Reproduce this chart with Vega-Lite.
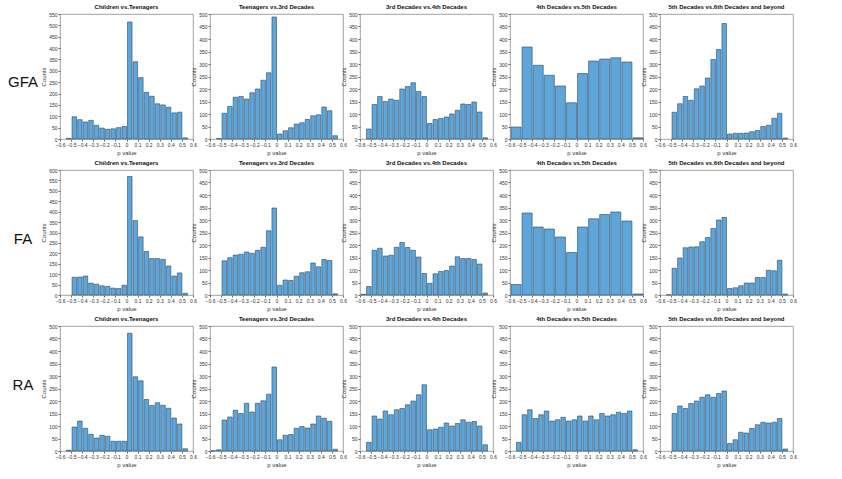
{
"$schema":"https://vega.github.io/schema/vega-lite/v6.json",
"background":"white",
"padding":{"left":3,"top":3,"right":5,"bottom":5},
"config":{"font":"Liberation Sans","view":{"stroke":"#8c8c8c","strokeWidth":0.8},
"axis":{"grid":false,"labelFontSize":5,"titleFontSize":6,"titleFontWeight":"normal","labelColor":"#333","titleColor":"#333","tickSize":2,"tickColor":"#666","domain":false,"labelPadding":1,"titlePadding":2,"labelFlush":false,"labelOverlap":false},
"title":{"fontSize":6,"fontWeight":"bold","offset":2,"color":"#111"},
"bar":{"fill":"#5ea6da","stroke":"#2b4a66","strokeWidth":0.6}},
"datasets":{
"g1":[{"a":-0.55,"b":-0.5,"c":3},{"a":-0.5,"b":-0.45,"c":98},{"a":-0.45,"b":-0.4,"c":85},{"a":-0.4,"b":-0.35,"c":75},{"a":-0.35,"b":-0.3,"c":82},{"a":-0.3,"b":-0.25,"c":60},{"a":-0.25,"b":-0.2,"c":48},{"a":-0.2,"b":-0.15,"c":43},{"a":-0.15,"b":-0.1,"c":45},{"a":-0.1,"b":-0.05,"c":50},{"a":-0.05,"b":0,"c":55},{"a":0,"b":0.05,"c":515},{"a":0.05,"b":0.1,"c":340},{"a":0.1,"b":0.15,"c":270},{"a":0.15,"b":0.2,"c":205},{"a":0.2,"b":0.25,"c":188},{"a":0.25,"b":0.3,"c":155},{"a":0.3,"b":0.35,"c":150},{"a":0.35,"b":0.4,"c":140},{"a":0.4,"b":0.45,"c":115},{"a":0.45,"b":0.5,"c":118},{"a":0.5,"b":0.55,"c":5}],
"g2":[{"a":-0.55,"b":-0.5,"c":2},{"a":-0.5,"b":-0.45,"c":103},{"a":-0.45,"b":-0.4,"c":130},{"a":-0.4,"b":-0.35,"c":167},{"a":-0.35,"b":-0.3,"c":170},{"a":-0.3,"b":-0.25,"c":160},{"a":-0.25,"b":-0.2,"c":185},{"a":-0.2,"b":-0.15,"c":200},{"a":-0.15,"b":-0.1,"c":235},{"a":-0.1,"b":-0.05,"c":265},{"a":-0.05,"b":0,"c":488},{"a":0,"b":0.05,"c":20},{"a":0.05,"b":0.1,"c":33},{"a":0.1,"b":0.15,"c":45},{"a":0.15,"b":0.2,"c":60},{"a":0.2,"b":0.25,"c":65},{"a":0.25,"b":0.3,"c":78},{"a":0.3,"b":0.35,"c":93},{"a":0.35,"b":0.4,"c":97},{"a":0.4,"b":0.45,"c":128},{"a":0.45,"b":0.5,"c":113},{"a":0.5,"b":0.55,"c":13}],
"g3":[{"a":-0.55,"b":-0.5,"c":40},{"a":-0.5,"b":-0.45,"c":138},{"a":-0.45,"b":-0.4,"c":170},{"a":-0.4,"b":-0.35,"c":150},{"a":-0.35,"b":-0.3,"c":160},{"a":-0.3,"b":-0.25,"c":155},{"a":-0.25,"b":-0.2,"c":200},{"a":-0.2,"b":-0.15,"c":210},{"a":-0.15,"b":-0.1,"c":225},{"a":-0.1,"b":-0.05,"c":190},{"a":-0.05,"b":0,"c":170},{"a":0,"b":0.05,"c":62},{"a":0.05,"b":0.1,"c":78},{"a":0.1,"b":0.15,"c":82},{"a":0.15,"b":0.2,"c":88},{"a":0.2,"b":0.25,"c":100},{"a":0.25,"b":0.3,"c":115},{"a":0.3,"b":0.35,"c":140},{"a":0.35,"b":0.4,"c":138},{"a":0.4,"b":0.45,"c":148},{"a":0.45,"b":0.5,"c":108},{"a":0.5,"b":0.55,"c":5}],
"g4":[{"a":-0.6,"b":-0.5,"c":48},{"a":-0.5,"b":-0.4,"c":368},{"a":-0.4,"b":-0.3,"c":295},{"a":-0.3,"b":-0.2,"c":255},{"a":-0.2,"b":-0.1,"c":212},{"a":-0.1,"b":0,"c":145},{"a":0,"b":0.1,"c":262},{"a":0.1,"b":0.2,"c":312},{"a":0.2,"b":0.3,"c":320},{"a":0.3,"b":0.4,"c":325},{"a":0.4,"b":0.5,"c":308},{"a":0.5,"b":0.6,"c":5}],
"g5":[{"a":-0.5,"b":-0.45,"c":107},{"a":-0.45,"b":-0.4,"c":141},{"a":-0.4,"b":-0.35,"c":170},{"a":-0.35,"b":-0.3,"c":155},{"a":-0.3,"b":-0.25,"c":201},{"a":-0.25,"b":-0.2,"c":212},{"a":-0.2,"b":-0.15,"c":244},{"a":-0.15,"b":-0.1,"c":318},{"a":-0.1,"b":-0.05,"c":358},{"a":-0.05,"b":0,"c":462},{"a":0,"b":0.05,"c":20},{"a":0.05,"b":0.1,"c":23},{"a":0.1,"b":0.15,"c":23},{"a":0.15,"b":0.2,"c":24},{"a":0.2,"b":0.25,"c":29},{"a":0.25,"b":0.3,"c":34},{"a":0.3,"b":0.35,"c":50},{"a":0.35,"b":0.4,"c":55},{"a":0.4,"b":0.45,"c":83},{"a":0.45,"b":0.5,"c":103},{"a":0.5,"b":0.55,"c":4}],
"f1":[{"a":-0.5,"b":-0.45,"c":85},{"a":-0.45,"b":-0.4,"c":86},{"a":-0.4,"b":-0.35,"c":91},{"a":-0.35,"b":-0.3,"c":57},{"a":-0.3,"b":-0.25,"c":52},{"a":-0.25,"b":-0.2,"c":44},{"a":-0.2,"b":-0.15,"c":41},{"a":-0.15,"b":-0.1,"c":33},{"a":-0.1,"b":-0.05,"c":31},{"a":-0.05,"b":0,"c":47},{"a":0,"b":0.05,"c":569},{"a":0.05,"b":0.1,"c":357},{"a":0.1,"b":0.15,"c":279},{"a":0.15,"b":0.2,"c":209},{"a":0.2,"b":0.25,"c":175},{"a":0.25,"b":0.3,"c":175},{"a":0.3,"b":0.35,"c":171},{"a":0.35,"b":0.4,"c":139},{"a":0.4,"b":0.45,"c":91},{"a":0.45,"b":0.5,"c":106},{"a":0.5,"b":0.55,"c":8}],
"f2":[{"a":-0.5,"b":-0.45,"c":137},{"a":-0.45,"b":-0.4,"c":149},{"a":-0.4,"b":-0.35,"c":160},{"a":-0.35,"b":-0.3,"c":163},{"a":-0.3,"b":-0.25,"c":172},{"a":-0.25,"b":-0.2,"c":167},{"a":-0.2,"b":-0.15,"c":179},{"a":-0.15,"b":-0.1,"c":191},{"a":-0.1,"b":-0.05,"c":257},{"a":-0.05,"b":0,"c":348},{"a":0,"b":0.05,"c":39},{"a":0.05,"b":0.1,"c":60},{"a":0.1,"b":0.15,"c":58},{"a":0.15,"b":0.2,"c":75},{"a":0.2,"b":0.25,"c":89},{"a":0.25,"b":0.3,"c":93},{"a":0.3,"b":0.35,"c":128},{"a":0.35,"b":0.4,"c":113},{"a":0.4,"b":0.45,"c":142},{"a":0.45,"b":0.5,"c":138},{"a":0.5,"b":0.55,"c":5}],
"f3":[{"a":-0.6,"b":-0.55,"c":3},{"a":-0.55,"b":-0.5,"c":34},{"a":-0.5,"b":-0.45,"c":179},{"a":-0.45,"b":-0.4,"c":187},{"a":-0.4,"b":-0.35,"c":156},{"a":-0.35,"b":-0.3,"c":159},{"a":-0.3,"b":-0.25,"c":191},{"a":-0.25,"b":-0.2,"c":210},{"a":-0.2,"b":-0.15,"c":190},{"a":-0.15,"b":-0.1,"c":179},{"a":-0.1,"b":-0.05,"c":152},{"a":-0.05,"b":0,"c":86},{"a":0,"b":0.05,"c":47},{"a":0.05,"b":0.1,"c":85},{"a":0.1,"b":0.15,"c":94},{"a":0.15,"b":0.2,"c":98},{"a":0.2,"b":0.25,"c":116},{"a":0.25,"b":0.3,"c":153},{"a":0.3,"b":0.35,"c":146},{"a":0.35,"b":0.4,"c":146},{"a":0.4,"b":0.45,"c":142},{"a":0.45,"b":0.5,"c":124},{"a":0.5,"b":0.55,"c":8}],
"f4":[{"a":-0.6,"b":-0.5,"c":42},{"a":-0.5,"b":-0.4,"c":328},{"a":-0.4,"b":-0.3,"c":272},{"a":-0.3,"b":-0.2,"c":264},{"a":-0.2,"b":-0.1,"c":232},{"a":-0.1,"b":0,"c":170},{"a":0,"b":0.1,"c":272},{"a":0.1,"b":0.2,"c":305},{"a":0.2,"b":0.3,"c":322},{"a":0.3,"b":0.4,"c":332},{"a":0.4,"b":0.5,"c":296},{"a":0.5,"b":0.6,"c":4}],
"f5":[{"a":-0.55,"b":-0.5,"c":1},{"a":-0.5,"b":-0.45,"c":107},{"a":-0.45,"b":-0.4,"c":148},{"a":-0.4,"b":-0.35,"c":189},{"a":-0.35,"b":-0.3,"c":192},{"a":-0.3,"b":-0.25,"c":193},{"a":-0.25,"b":-0.2,"c":213},{"a":-0.2,"b":-0.15,"c":230},{"a":-0.15,"b":-0.1,"c":266},{"a":-0.1,"b":-0.05,"c":300},{"a":-0.05,"b":0,"c":310},{"a":0,"b":0.05,"c":26},{"a":0.05,"b":0.1,"c":29},{"a":0.1,"b":0.15,"c":37},{"a":0.15,"b":0.2,"c":48},{"a":0.2,"b":0.25,"c":48},{"a":0.25,"b":0.3,"c":70},{"a":0.3,"b":0.35,"c":70},{"a":0.35,"b":0.4,"c":99},{"a":0.4,"b":0.45,"c":97},{"a":0.45,"b":0.5,"c":139},{"a":0.5,"b":0.55,"c":4}],
"r1":[{"a":-0.55,"b":-0.5,"c":3},{"a":-0.5,"b":-0.45,"c":96},{"a":-0.45,"b":-0.4,"c":120},{"a":-0.4,"b":-0.35,"c":91},{"a":-0.35,"b":-0.3,"c":67},{"a":-0.3,"b":-0.25,"c":52},{"a":-0.25,"b":-0.2,"c":63},{"a":-0.2,"b":-0.15,"c":59},{"a":-0.15,"b":-0.1,"c":39},{"a":-0.1,"b":-0.05,"c":39},{"a":-0.05,"b":0,"c":39},{"a":0,"b":0.05,"c":471},{"a":0.05,"b":0.1,"c":297},{"a":0.1,"b":0.15,"c":281},{"a":0.15,"b":0.2,"c":206},{"a":0.2,"b":0.25,"c":182},{"a":0.25,"b":0.3,"c":193},{"a":0.3,"b":0.35,"c":183},{"a":0.35,"b":0.4,"c":171},{"a":0.4,"b":0.45,"c":132},{"a":0.45,"b":0.5,"c":108},{"a":0.5,"b":0.55,"c":9}],
"r2":[{"a":-0.6,"b":-0.55,"c":1},{"a":-0.55,"b":-0.5,"c":5},{"a":-0.5,"b":-0.45,"c":124},{"a":-0.45,"b":-0.4,"c":136},{"a":-0.4,"b":-0.35,"c":163},{"a":-0.35,"b":-0.3,"c":150},{"a":-0.3,"b":-0.25,"c":191},{"a":-0.25,"b":-0.2,"c":156},{"a":-0.2,"b":-0.15,"c":191},{"a":-0.15,"b":-0.1,"c":201},{"a":-0.1,"b":-0.05,"c":227},{"a":-0.05,"b":0,"c":336},{"a":0,"b":0.05,"c":45},{"a":0.05,"b":0.1,"c":63},{"a":0.1,"b":0.15,"c":66},{"a":0.15,"b":0.2,"c":91},{"a":0.2,"b":0.25,"c":98},{"a":0.25,"b":0.3,"c":92},{"a":0.3,"b":0.35,"c":108},{"a":0.35,"b":0.4,"c":140},{"a":0.4,"b":0.45,"c":131},{"a":0.45,"b":0.5,"c":119},{"a":0.5,"b":0.55,"c":7}],
"r3":[{"a":-0.55,"b":-0.5,"c":35},{"a":-0.5,"b":-0.45,"c":140},{"a":-0.45,"b":-0.4,"c":128},{"a":-0.4,"b":-0.35,"c":160},{"a":-0.35,"b":-0.3,"c":145},{"a":-0.3,"b":-0.25,"c":165},{"a":-0.25,"b":-0.2,"c":170},{"a":-0.2,"b":-0.15,"c":185},{"a":-0.15,"b":-0.1,"c":200},{"a":-0.1,"b":-0.05,"c":225},{"a":-0.05,"b":0,"c":265},{"a":0,"b":0.05,"c":85},{"a":0.05,"b":0.1,"c":88},{"a":0.1,"b":0.15,"c":95},{"a":0.15,"b":0.2,"c":112},{"a":0.2,"b":0.25,"c":100},{"a":0.25,"b":0.3,"c":110},{"a":0.3,"b":0.35,"c":125},{"a":0.35,"b":0.4,"c":115},{"a":0.4,"b":0.45,"c":118},{"a":0.45,"b":0.5,"c":100},{"a":0.5,"b":0.55,"c":25}],
"r4":[{"a":-0.55,"b":-0.5,"c":35},{"a":-0.5,"b":-0.45,"c":145},{"a":-0.45,"b":-0.4,"c":165},{"a":-0.4,"b":-0.35,"c":130},{"a":-0.35,"b":-0.3,"c":145},{"a":-0.3,"b":-0.25,"c":160},{"a":-0.25,"b":-0.2,"c":120},{"a":-0.2,"b":-0.15,"c":125},{"a":-0.15,"b":-0.1,"c":135},{"a":-0.1,"b":-0.05,"c":120},{"a":-0.05,"b":0,"c":125},{"a":0,"b":0.05,"c":140},{"a":0.05,"b":0.1,"c":120},{"a":0.1,"b":0.15,"c":140},{"a":0.15,"b":0.2,"c":125},{"a":0.2,"b":0.25,"c":150},{"a":0.25,"b":0.3,"c":140},{"a":0.3,"b":0.35,"c":145},{"a":0.35,"b":0.4,"c":155},{"a":0.4,"b":0.45,"c":150},{"a":0.45,"b":0.5,"c":160},{"a":0.5,"b":0.55,"c":5}],
"r5":[{"a":-0.5,"b":-0.45,"c":150},{"a":-0.45,"b":-0.4,"c":180},{"a":-0.4,"b":-0.35,"c":170},{"a":-0.35,"b":-0.3,"c":190},{"a":-0.3,"b":-0.25,"c":200},{"a":-0.25,"b":-0.2,"c":215},{"a":-0.2,"b":-0.15,"c":225},{"a":-0.15,"b":-0.1,"c":215},{"a":-0.1,"b":-0.05,"c":230},{"a":-0.05,"b":0,"c":240},{"a":0,"b":0.05,"c":30},{"a":0.05,"b":0.1,"c":45},{"a":0.1,"b":0.15,"c":75},{"a":0.15,"b":0.2,"c":72},{"a":0.2,"b":0.25,"c":90},{"a":0.25,"b":0.3,"c":105},{"a":0.3,"b":0.35,"c":115},{"a":0.35,"b":0.4,"c":112},{"a":0.4,"b":0.45,"c":115},{"a":0.45,"b":0.5,"c":130},{"a":0.5,"b":0.55,"c":8}],
"lg":[{"t":"GFA"}],"lf":[{"t":"FA"}],"lr":[{"t":"RA"}]
},
"spacing":3,
"vconcat":[
{"bounds":"flush","spacing":17,"hconcat":[
{"width":40,"height":125,"view":{"stroke":null},"data":{"name":"lg"},"mark":{"type":"text","fontSize":15,"font":"Liberation Sans","color":"#111","dy":5},"encoding":{"text":{"field":"t"}}},
{"width":133,"height":125,"title":"Children vs.Teenagers","data":{"name":"g1"},"mark":"bar","encoding":{"x":{"field":"a","type":"quantitative","bin":"binned","scale":{"domain":[-0.6,0.6],"nice":false},"axis":{"title":"p value","values":[-0.6,-0.5,-0.4,-0.3,-0.2,-0.1,0,0.1,0.2,0.3,0.4,0.5,0.6],"format":".1~f"}},"x2":{"field":"b"},"y":{"field":"c","type":"quantitative","scale":{"domain":[0,550],"nice":false},"axis":{"title":"Counts","values":[0,50,100,150,200,250,300,350,400,450,500,550]}}}},
{"width":133,"height":125,"title":"Teenagers vs.3rd Decades","data":{"name":"g2"},"mark":"bar","encoding":{"x":{"field":"a","type":"quantitative","bin":"binned","scale":{"domain":[-0.6,0.6],"nice":false},"axis":{"title":"p value","values":[-0.6,-0.5,-0.4,-0.3,-0.2,-0.1,0,0.1,0.2,0.3,0.4,0.5,0.6],"format":".1~f"}},"x2":{"field":"b"},"y":{"field":"c","type":"quantitative","scale":{"domain":[0,500],"nice":false},"axis":{"title":"Counts","values":[0,50,100,150,200,250,300,350,400,450,500]}}}},
{"width":133,"height":125,"title":"3rd Decades vs.4th Decades","data":{"name":"g3"},"mark":"bar","encoding":{"x":{"field":"a","type":"quantitative","bin":"binned","scale":{"domain":[-0.6,0.6],"nice":false},"axis":{"title":"p value","values":[-0.6,-0.5,-0.4,-0.3,-0.2,-0.1,0,0.1,0.2,0.3,0.4,0.5,0.6],"format":".1~f"}},"x2":{"field":"b"},"y":{"field":"c","type":"quantitative","scale":{"domain":[0,500],"nice":false},"axis":{"title":"Counts","values":[0,50,100,150,200,250,300,350,400,450,500]}}}},
{"width":133,"height":125,"title":"4th Decades vs.5th Decades","data":{"name":"g4"},"mark":"bar","encoding":{"x":{"field":"a","type":"quantitative","bin":"binned","scale":{"domain":[-0.6,0.6],"nice":false},"axis":{"title":"p value","values":[-0.6,-0.5,-0.4,-0.3,-0.2,-0.1,0,0.1,0.2,0.3,0.4,0.5,0.6],"format":".1~f"}},"x2":{"field":"b"},"y":{"field":"c","type":"quantitative","scale":{"domain":[0,500],"nice":false},"axis":{"title":"Counts","values":[0,50,100,150,200,250,300,350,400,450,500]}}}},
{"width":133,"height":125,"title":"5th Decades vs.6th Decades and beyond","data":{"name":"g5"},"mark":"bar","encoding":{"x":{"field":"a","type":"quantitative","bin":"binned","scale":{"domain":[-0.6,0.6],"nice":false},"axis":{"title":"p value","values":[-0.6,-0.5,-0.4,-0.3,-0.2,-0.1,0,0.1,0.2,0.3,0.4,0.5,0.6],"format":".1~f"}},"x2":{"field":"b"},"y":{"field":"c","type":"quantitative","scale":{"domain":[0,500],"nice":false},"axis":{"title":"Counts","values":[0,50,100,150,200,250,300,350,400,450,500]}}}}
]},
{"bounds":"flush","spacing":17,"hconcat":[
{"width":40,"height":125,"view":{"stroke":null},"data":{"name":"lf"},"mark":{"type":"text","fontSize":15,"font":"Liberation Sans","color":"#111","dy":6},"encoding":{"text":{"field":"t"}}},
{"width":133,"height":125,"title":"Children vs.Teenagers","data":{"name":"f1"},"mark":"bar","encoding":{"x":{"field":"a","type":"quantitative","bin":"binned","scale":{"domain":[-0.6,0.6],"nice":false},"axis":{"title":"p value","values":[-0.6,-0.5,-0.4,-0.3,-0.2,-0.1,0,0.1,0.2,0.3,0.4,0.5,0.6],"format":".1~f"}},"x2":{"field":"b"},"y":{"field":"c","type":"quantitative","scale":{"domain":[0,600],"nice":false},"axis":{"title":"Counts","values":[0,50,100,150,200,250,300,350,400,450,500,550,600]}}}},
{"width":133,"height":125,"title":"Teenagers vs.3rd Decades","data":{"name":"f2"},"mark":"bar","encoding":{"x":{"field":"a","type":"quantitative","bin":"binned","scale":{"domain":[-0.6,0.6],"nice":false},"axis":{"title":"p value","values":[-0.6,-0.5,-0.4,-0.3,-0.2,-0.1,0,0.1,0.2,0.3,0.4,0.5,0.6],"format":".1~f"}},"x2":{"field":"b"},"y":{"field":"c","type":"quantitative","scale":{"domain":[0,500],"nice":false},"axis":{"title":"Counts","values":[0,50,100,150,200,250,300,350,400,450,500]}}}},
{"width":133,"height":125,"title":"3rd Decades vs.4th Decades","data":{"name":"f3"},"mark":"bar","encoding":{"x":{"field":"a","type":"quantitative","bin":"binned","scale":{"domain":[-0.6,0.6],"nice":false},"axis":{"title":"p value","values":[-0.6,-0.5,-0.4,-0.3,-0.2,-0.1,0,0.1,0.2,0.3,0.4,0.5,0.6],"format":".1~f"}},"x2":{"field":"b"},"y":{"field":"c","type":"quantitative","scale":{"domain":[0,500],"nice":false},"axis":{"title":"Counts","values":[0,50,100,150,200,250,300,350,400,450,500]}}}},
{"width":133,"height":125,"title":"4th Decades vs.5th Decades","data":{"name":"f4"},"mark":"bar","encoding":{"x":{"field":"a","type":"quantitative","bin":"binned","scale":{"domain":[-0.6,0.6],"nice":false},"axis":{"title":"p value","values":[-0.6,-0.5,-0.4,-0.3,-0.2,-0.1,0,0.1,0.2,0.3,0.4,0.5,0.6],"format":".1~f"}},"x2":{"field":"b"},"y":{"field":"c","type":"quantitative","scale":{"domain":[0,500],"nice":false},"axis":{"title":"Counts","values":[0,50,100,150,200,250,300,350,400,450,500]}}}},
{"width":133,"height":125,"title":"5th Decades vs.6th Decades and beyond","data":{"name":"f5"},"mark":"bar","encoding":{"x":{"field":"a","type":"quantitative","bin":"binned","scale":{"domain":[-0.6,0.6],"nice":false},"axis":{"title":"p value","values":[-0.6,-0.5,-0.4,-0.3,-0.2,-0.1,0,0.1,0.2,0.3,0.4,0.5,0.6],"format":".1~f"}},"x2":{"field":"b"},"y":{"field":"c","type":"quantitative","scale":{"domain":[0,500],"nice":false},"axis":{"title":"Counts","values":[0,50,100,150,200,250,300,350,400,450,500]}}}}
]},
{"bounds":"flush","spacing":17,"hconcat":[
{"width":40,"height":125,"view":{"stroke":null},"data":{"name":"lr"},"mark":{"type":"text","fontSize":15,"font":"Liberation Sans","color":"#111","dy":-4},"encoding":{"text":{"field":"t"}}},
{"width":133,"height":125,"title":"Children vs.Teenagers","data":{"name":"r1"},"mark":"bar","encoding":{"x":{"field":"a","type":"quantitative","bin":"binned","scale":{"domain":[-0.6,0.6],"nice":false},"axis":{"title":"p value","values":[-0.6,-0.5,-0.4,-0.3,-0.2,-0.1,0,0.1,0.2,0.3,0.4,0.5,0.6],"format":".1~f"}},"x2":{"field":"b"},"y":{"field":"c","type":"quantitative","scale":{"domain":[0,500],"nice":false},"axis":{"title":"Counts","values":[0,50,100,150,200,250,300,350,400,450,500]}}}},
{"width":133,"height":125,"title":"Teenagers vs.3rd Decades","data":{"name":"r2"},"mark":"bar","encoding":{"x":{"field":"a","type":"quantitative","bin":"binned","scale":{"domain":[-0.6,0.6],"nice":false},"axis":{"title":"p value","values":[-0.6,-0.5,-0.4,-0.3,-0.2,-0.1,0,0.1,0.2,0.3,0.4,0.5,0.6],"format":".1~f"}},"x2":{"field":"b"},"y":{"field":"c","type":"quantitative","scale":{"domain":[0,500],"nice":false},"axis":{"title":"Counts","values":[0,50,100,150,200,250,300,350,400,450,500]}}}},
{"width":133,"height":125,"title":"3rd Decades vs.4th Decades","data":{"name":"r3"},"mark":"bar","encoding":{"x":{"field":"a","type":"quantitative","bin":"binned","scale":{"domain":[-0.6,0.6],"nice":false},"axis":{"title":"p value","values":[-0.6,-0.5,-0.4,-0.3,-0.2,-0.1,0,0.1,0.2,0.3,0.4,0.5,0.6],"format":".1~f"}},"x2":{"field":"b"},"y":{"field":"c","type":"quantitative","scale":{"domain":[0,500],"nice":false},"axis":{"title":"Counts","values":[0,50,100,150,200,250,300,350,400,450,500]}}}},
{"width":133,"height":125,"title":"4th Decades vs.5th Decades","data":{"name":"r4"},"mark":"bar","encoding":{"x":{"field":"a","type":"quantitative","bin":"binned","scale":{"domain":[-0.6,0.6],"nice":false},"axis":{"title":"p value","values":[-0.6,-0.5,-0.4,-0.3,-0.2,-0.1,0,0.1,0.2,0.3,0.4,0.5,0.6],"format":".1~f"}},"x2":{"field":"b"},"y":{"field":"c","type":"quantitative","scale":{"domain":[0,500],"nice":false},"axis":{"title":"Counts","values":[0,50,100,150,200,250,300,350,400,450,500]}}}},
{"width":133,"height":125,"title":"5th Decades vs.6th Decades and beyond","data":{"name":"r5"},"mark":"bar","encoding":{"x":{"field":"a","type":"quantitative","bin":"binned","scale":{"domain":[-0.6,0.6],"nice":false},"axis":{"title":"p value","values":[-0.6,-0.5,-0.4,-0.3,-0.2,-0.1,0,0.1,0.2,0.3,0.4,0.5,0.6],"format":".1~f"}},"x2":{"field":"b"},"y":{"field":"c","type":"quantitative","scale":{"domain":[0,500],"nice":false},"axis":{"title":"Counts","values":[0,50,100,150,200,250,300,350,400,450,500]}}}}
]}
]
}
